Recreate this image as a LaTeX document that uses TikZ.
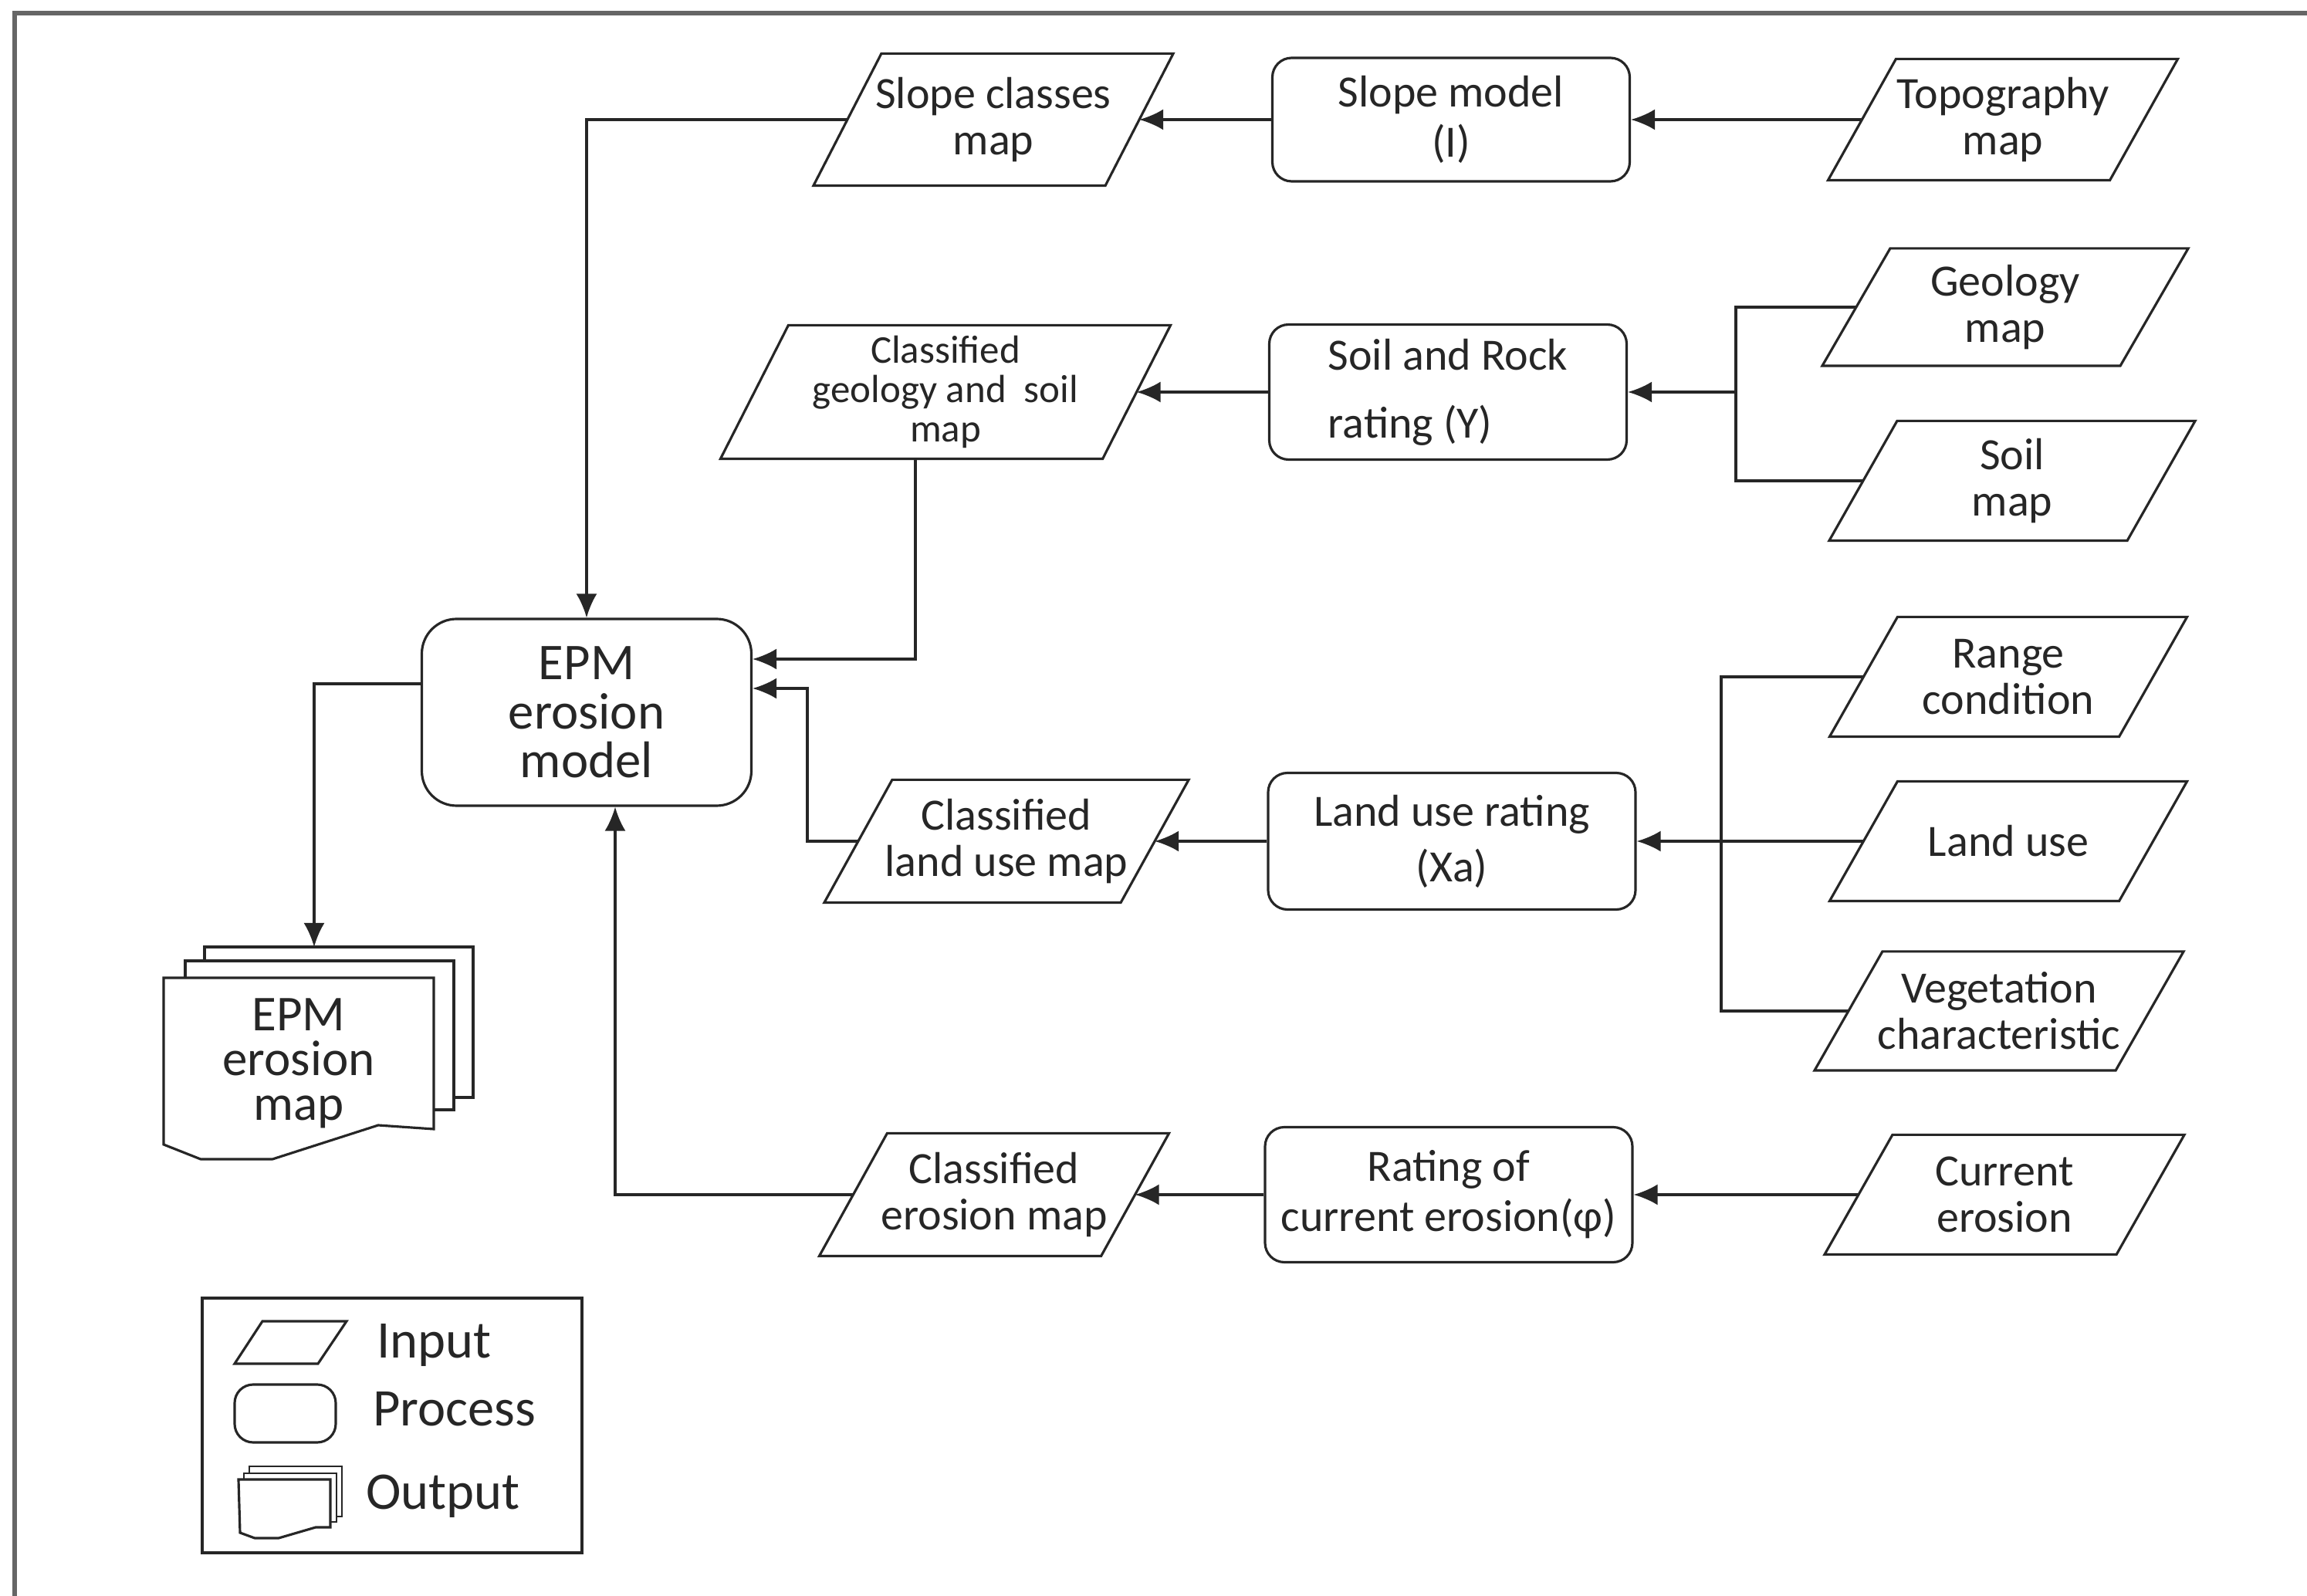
\documentclass[tikz,border=0pt]{standalone}
\usepackage{fontspec}
\setmainfont{Carlito}
\usepackage{tikz}
\usetikzlibrary{arrows.meta, positioning}

\tikzset{
    inbox/.style={rectangle, inner sep=0pt, minimum height=1.52cm, align=center,
        font=\fontsize{16.5}{17}\selectfont,
        append after command={\pgfextra{
            \draw ([xshift=-4.4mm]\tikzlastnode.south west) -- ([xshift=4.4mm]\tikzlastnode.north west)
                -- ([xshift=4.4mm]\tikzlastnode.north east) -- ([xshift=-4.4mm]\tikzlastnode.south east) -- cycle;}}},
    procbox/.style={rectangle, rounded corners=2.5mm, draw, inner sep=0pt,
        align=center, font=\fontsize{16.5}{18.5}\selectfont},
    legtext/.style={anchor=west, font=\fontsize{19.5}{21}\selectfont},
}

\begin{document}
\begin{tikzpicture}[>={Latex[length=3.1mm,width=2.7mm]}, line width=0.9pt, black!85]

    \useasboundingbox (0,0) rectangle (29.89,-20.68);
    % khung ngoai
    \draw[line width=1.6pt, black!60] (0.19,-20.68) -- (0.19,-0.17) -- (29.89,-0.17);

    % =================================================================
    % 1. EPM MODEL
    % =================================================================
    \node[procbox, rounded corners=4.5mm, minimum width=4.27cm, minimum height=2.42cm,
        font=\fontsize{19}{18}\selectfont] (epm) at (7.60,-9.23) {EPM\\erosion\\model};

    % =================================================================
    % 2. ROW: SLOPE
    % =================================================================
    \node[inbox, minimum width=3.75cm, minimum height=1.68cm] (sclass) at (12.87,-1.55) {Slope classes\\map};
    \node[procbox, minimum width=4.63cm, minimum height=1.60cm] (smodel) at (18.80,-1.55) {Slope model\\(I)};
    \node[inbox, minimum width=3.62cm, minimum height=1.54cm] (topo) at (25.95,-1.55) {Topography\\map};

    \draw[->] (topo) -- (smodel);
    \draw[->] (smodel) -- (sclass);
    \draw[->] (sclass) -| (epm);

    % =================================================================
    % 3. ROW: SOIL AND ROCK
    % =================================================================
    \node[inbox, minimum width=3.83cm, minimum height=1.49cm] (geo) at (25.98,-3.98) {Geology\\map};
    \node[inbox, minimum width=3.83cm] (soil) at (26.07,-6.23) {Soil\\map};
    \node[procbox, minimum width=4.63cm, minimum height=1.75cm, align=left,
        font=\fontsize{16.5}{25}\selectfont] (srate) at (18.76,-5.08) {Soil and Rock\\rating (Y)};
    \node[inbox, minimum width=4.92cm, minimum height=1.70cm,
        font=\fontsize{14.5}{14.5}\selectfont] (cgeo) at (12.25,-5.08) {Classified\\geology and\ \ soil\\map};
    \coordinate (j2) at (22.49,-5.08);

    \draw (geo.west) -| (j2) |- (soil.west);
    \draw[->] (j2) -- (srate);
    \draw[->] (srate) -- (cgeo);
    \draw[->] ([xshift=-3.9mm]cgeo.south) |- ([yshift=6.9mm]epm.east);

    % =================================================================
    % 4. ROW: LAND USE
    % =================================================================
    \node[inbox, minimum width=3.72cm] (range) at (26.02,-8.77) {Range\\condition};
    \node[inbox, minimum width=3.72cm] (luse) at (26.02,-10.90) {Land use};
    \node[inbox, minimum width=3.87cm, minimum height=1.51cm] (veg) at (25.90,-13.10) {Vegetation\\characteristic};
    \node[procbox, minimum width=4.76cm, minimum height=1.77cm,
        font=\fontsize{16.5}{20.5}\selectfont] (lrate) at (18.81,-10.90) {Land use rating\\(Xa)};
    \node[inbox, minimum width=3.81cm, minimum height=1.56cm] (cluse) at (13.04,-10.90) {Classified\\land use map};
    \coordinate (j3) at (22.30,-10.90);

    \draw (range.west) -| (j3) |- (veg.west);
    \draw[->] (luse) -- (lrate);
    \draw[->] (lrate) -- (cluse);
    \draw[->] (cluse.west) -- ++(-0.66,0) |- ([yshift=3.1mm]epm.east);

    % =================================================================
    % 5. ROW: CURRENT EROSION
    % =================================================================
    \node[inbox, minimum width=3.75cm] (cur) at (25.97,-15.48) {Current\\erosion};
    \node[procbox, minimum width=4.76cm, minimum height=1.75cm] (erate) at (18.77,-15.48) {Rating of\\current erosion(φ)};
    \node[inbox, minimum width=3.62cm, minimum height=1.56cm] (cero) at (12.88,-15.48) {Classified\\erosion map};

    \draw[->] (cur) -- (erate);
    \draw[->] (erate) -- (cero);
    \draw[->] (cero) -| ([xshift=3.7mm]epm.south);

    % =================================================================
    % 6. OUTPUT MAP
    % =================================================================
    \draw[fill=white] (2.65,-12.27) rectangle (6.13,-14.22);
    \draw[fill=white] (2.40,-12.45) rectangle (5.88,-14.38);
    \draw[fill=white] (2.12,-12.67) -- (5.62,-12.67) -- (5.62,-14.63) -- (4.90,-14.58)
        -- (3.53,-15.02) -- (2.60,-15.02) -- (2.12,-14.83) -- cycle;
    \node[align=center, font=\fontsize{18.5}{16.5}\selectfont] (emap) at (3.87,-13.78) {EPM\\erosion\\map};
    \coordinate (emaptop) at (4.07,-12.27);

    \draw[->] ([yshift=3.7mm]epm.west) -| (emaptop);

    % =================================================================
    % 7. LEGEND
    % =================================================================
    \draw (2.62,-16.82) rectangle (7.54,-20.12);
    \draw (3.04,-17.67) -- (3.40,-17.12) -- (4.49,-17.12) -- (4.12,-17.67) -- cycle;
    \draw[rounded corners=2.4mm] (3.04,-17.94) rectangle (4.35,-18.69);
    \draw[fill=white, line width=0.6pt] (3.23,-19.00) rectangle (4.43,-19.65);
    \draw[fill=white, line width=0.6pt] (3.16,-19.09) rectangle (4.36,-19.72);
    \draw[fill=white] (3.09,-19.17) -- (4.28,-19.17) -- (4.28,-19.79) -- (4.09,-19.79)
        -- (3.61,-19.93) -- (3.30,-19.93) -- (3.11,-19.86) -- cycle;

    \node[legtext] (linput) at (4.75,-17.43) {Input};
    \node[legtext] (lproc) at (4.70,-18.26) {Process};
    \node[legtext] (lout) at (4.61,-19.39) {Output};

\end{tikzpicture}
\end{document}
